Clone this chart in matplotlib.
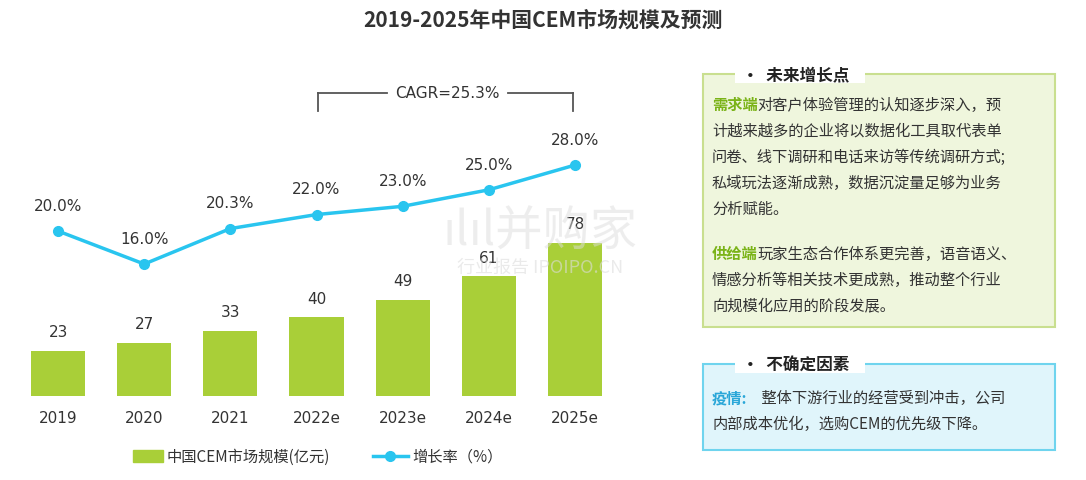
import matplotlib
matplotlib.use("Agg")
import matplotlib.pyplot as plt
from matplotlib.patches import Rectangle
from matplotlib.lines import Line2D

plt.rcParams['font.family'] = ['Noto Sans CJK SC', 'DejaVu Sans']

years = ['2019', '2020', '2021', '2022e', '2023e', '2024e', '2025e']
market = [23, 27, 33, 40, 49, 61, 78]
growth = [20.0, 16.0, 20.3, 22.0, 23.0, 25.0, 28.0]

W, H = 1086, 481
fig = plt.figure(figsize=(W/100, H/100), dpi=100)
def fx(x): return x / W
def fy(y): return 1 - y / H

GREEN = '#a9cf38'
BLUE = '#29c5ef'

ax = fig.add_axes([fx(15), fy(397), fx(618 - 15), (397 - 30) / H])
ax.bar(range(len(years)), market, width=0.63, color=GREEN)
ax.set_ylim(0, 187)
ax.set_xlim(-0.5, len(years) - 0.5)
for i, v in enumerate(market):
    ax.text(i, v + 6, str(v), ha='center', va='bottom', fontsize=11, color='#333333', family='DejaVu Sans')
ax.set_xticks(range(len(years)))
ax.set_xticklabels(years, fontsize=11, color='#333333', family='DejaVu Sans')
ax.tick_params(axis='x', length=0, pad=10)
ax.set_yticks([])
for s in ['top', 'left', 'right', 'bottom']:
    ax.spines[s].set_visible(False)

ax2 = ax.twinx()
ax2.plot(range(len(years)), growth, color=BLUE, lw=2.5, marker='o', ms=7)
ax2.set_ylim(0, 44.5)
ax2.set_yticks([])
for s in ax2.spines.values():
    s.set_visible(False)
for i, v in enumerate(growth):
    ax2.text(i, v + 2.2, f'{v:.1f}%', ha='center', va='bottom', fontsize=11, color='#333333', family='DejaVu Sans')

fig.text(0.5, fy(20), '2019-2025年中国CEM市场规模及预测', ha='center', va='center',
         fontsize=15, fontweight='bold', color='#333333')

c = '#555555'
fig.add_artist(Line2D([fx(318), fx(318)], [fy(112), fy(94)], color=c, lw=1.3))
fig.add_artist(Line2D([fx(573), fx(573)], [fy(112), fy(94)], color=c, lw=1.3))
fig.add_artist(Line2D([fx(318), fx(387)], [fy(94), fy(94)], color=c, lw=1.3))
fig.add_artist(Line2D([fx(508), fx(573)], [fy(94), fy(94)], color=c, lw=1.3))
fig.text(fx(447), fy(94), 'CAGR=25.3%', ha='center', va='center', fontsize=11, color='#333333', family='DejaVu Sans')

fig.text(fx(540), fy(232), 'ılıl并购家', ha='center', va='center', fontsize=34, color='#dddddd', alpha=0.5, zorder=0)
fig.text(fx(540), fy(268), '行业报告 IPOIPO.CN', ha='center', va='center', fontsize=13, color='#dddddd', alpha=0.6, zorder=0)

fig.add_artist(Rectangle((fx(133), fy(463)), fx(30), 12 / H, color=GREEN))
fig.text(fx(167), fy(457), '中国CEM市场规模(亿元)', va='center', fontsize=11, color='#333333')
fig.add_artist(Line2D([fx(373), fx(408)], [fy(457), fy(457)], color=BLUE, lw=2.5))
fig.add_artist(Line2D([fx(390)], [fy(457)], color=BLUE, marker='o', ms=7))
fig.text(fx(412), fy(457), '增长率（%）', va='center', fontsize=11, color='#333333')

fig.add_artist(Rectangle((fx(703), fy(328)), fx(1055 - 703), (328 - 75) / H,
                         facecolor='#eff6dd', edgecolor='#c9df8f', lw=1.5))
fig.add_artist(Rectangle((fx(703), fy(451)), fx(1055 - 703), (451 - 365) / H,
                         facecolor='#e0f5fb', edgecolor='#6fd4ee', lw=1.5))
fig.add_artist(Rectangle((fx(735), fy(84)), fx(130), 18 / H, facecolor='white', edgecolor='none'))
fig.add_artist(Rectangle((fx(735), fy(374)), fx(130), 18 / H, facecolor='white', edgecolor='none'))
fig.text(fx(742), fy(75), '•  未来增长点', va='center', fontsize=12, fontweight='bold', color='#222222')
fig.text(fx(742), fy(366), '•  不确定因素', va='center', fontsize=12, fontweight='bold', color='#222222')

fs = 11
TXT = '#333333'
def para(y, lines, prefix, pcolor, step=26):
    fig.text(fx(712), fy(y), prefix, va='center', fontsize=fs, fontweight='bold', color=pcolor)
    fig.text(fx(712) + len(prefix) * 15.2 / W, fy(y), lines[0], va='center', fontsize=fs, color=TXT)
    for k, ln in enumerate(lines[1:], 1):
        fig.text(fx(712), fy(y + k * step), ln, va='center', fontsize=fs, color=TXT)

para(105, ['对客户体验管理的认知逐步深入，预',
           '计越来越多的企业将以数据化工具取代表单',
           '问卷、线下调研和电话来访等传统调研方式;',
           '私域玩法逐渐成熟，数据沉淀量足够为业务',
           '分析赋能。'], '需求端', '#7ab317')
para(254, ['玩家生态合作体系更完善，语音语义、',
           '情感分析等相关技术更成熟，推动整个行业',
           '向规模化应用的阶段发展。'], '供给端', '#7ab317')
para(398, [' 整体下游行业的经营受到冲击，公司',
           '内部成本优化，选购CEM的优先级下降。'], '疫情:', '#2aa7d8')

fig.savefig('out.png', dpi=100)
